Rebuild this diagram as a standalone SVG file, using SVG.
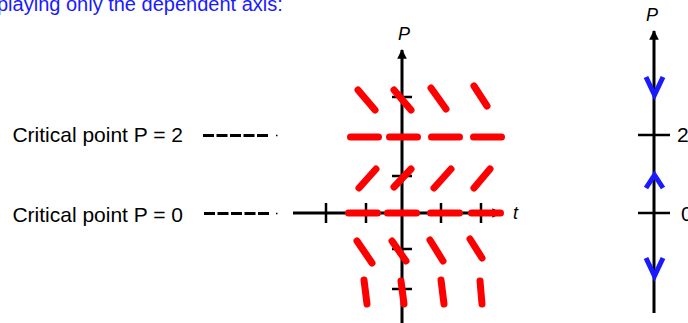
<svg xmlns="http://www.w3.org/2000/svg" width="688" height="323" viewBox="0 0 688 323">
<style>
.lbl{font-family:"Liberation Sans",Arial,sans-serif;font-size:21px;fill:#000}
.title{font-family:"Liberation Sans",Arial,sans-serif;font-size:20px;fill:#1a1aff}
.ital{font-family:"Liberation Sans",Arial,sans-serif;font-size:18px;font-style:italic;fill:#000}
.axis{stroke:#000;stroke-width:3;fill:none}
.tick{stroke:#000;stroke-width:2.5;fill:none}
.slope{stroke:#ff0000;stroke-width:7;stroke-linecap:round;fill:none}
.dash{stroke:#000;stroke-width:3;fill:none}
.chev{stroke:#1a1aff;stroke-width:5;fill:none;stroke-linejoin:miter}
</style>
<defs>
<marker id="ah" viewBox="0 0 10 10" refX="9" refY="5" markerWidth="3.4" markerHeight="3.2" orient="auto" markerUnits="strokeWidth">
<path d="M0,0 L10,5 L0,10 z" fill="#000"/>
</marker>
</defs>
<rect width="688" height="323" fill="#fff"/>
<text class="title" x="-3" y="11">playing only the dependent axis:</text>

<g id="label-p2">
<text class="lbl" x="183" y="142" text-anchor="end">Critical point P = 2</text>
<path class="dash" d="M203,135.5h11M216.5,135.5h11M230,135.5h11M243.5,135.5h11M257,135.5h11"/>
<path d="M276,135.5h1.5" stroke="#000" stroke-width="1.5"/>
</g>
<g id="label-p0">
<text class="lbl" x="183" y="221.5" text-anchor="end">Critical point P = 0</text>
<path class="dash" d="M204,213.5h11M217.5,213.5h11M231,213.5h11M244.5,213.5h11M258,213.5h11"/>
<path d="M276,213.5h1.5" stroke="#000" stroke-width="1.5"/>
</g>

<g id="direction-field-axes">
<line class="axis" x1="402" y1="323" x2="402" y2="50" marker-end="url(#ah)"/>
<line class="axis" x1="293" y1="213" x2="501" y2="213" marker-end="url(#ah)"/>
<path class="tick" d="M326,203v20M366,203v20M441,203v20M481,203v20"/>
<path class="tick" d="M392,97h20M392,137h20M392,176h20M392,249h20M392,289h20"/>
<text class="ital" x="398" y="40">P</text>
<text class="ital" x="513" y="219">t</text>
</g>

<g id="slope-field">
<path class="slope" d="M350.5,137H378.5M389.5,137H417.5M431.5,137H459.5M473.5,137H501.5"/>
<path class="slope" d="M348.5,213H377.5M387.5,213H416.5M430.5,213H459.5M471.5,213H500.5"/>
<path class="slope" d="M358,90L375,110M394,90L411,110M431,88L446,109M474,86L487,106"/>
<path class="slope" d="M359,188L376,169M394,187L411,169M434,188L451,169M474,188L490,169"/>
<path class="slope" d="M357,241L372,263M392,241L406,261M430,240L443,261M470,239L482,258"/>
<path class="slope" d="M364,280L367,304M401,281L404,304M441,280L444,304M480,281L482,304"/>
</g>

<g id="phase-line">
<line class="axis" x1="654" y1="313" x2="654" y2="31" marker-end="url(#ah)"/>
<path class="tick" d="M638,135h32M638,213h32"/>
<text class="ital" x="646" y="21">P</text>
<text class="lbl" x="677" y="142">2</text>
<text class="lbl" x="681" y="221">0</text>
<polyline class="chev" points="646,77 654.5,95 663,77"/>
<polyline class="chev" points="646,188 654.5,175 663,188"/>
<polyline class="chev" points="646,258 654.5,276 663,258"/>
</g>
</svg>
